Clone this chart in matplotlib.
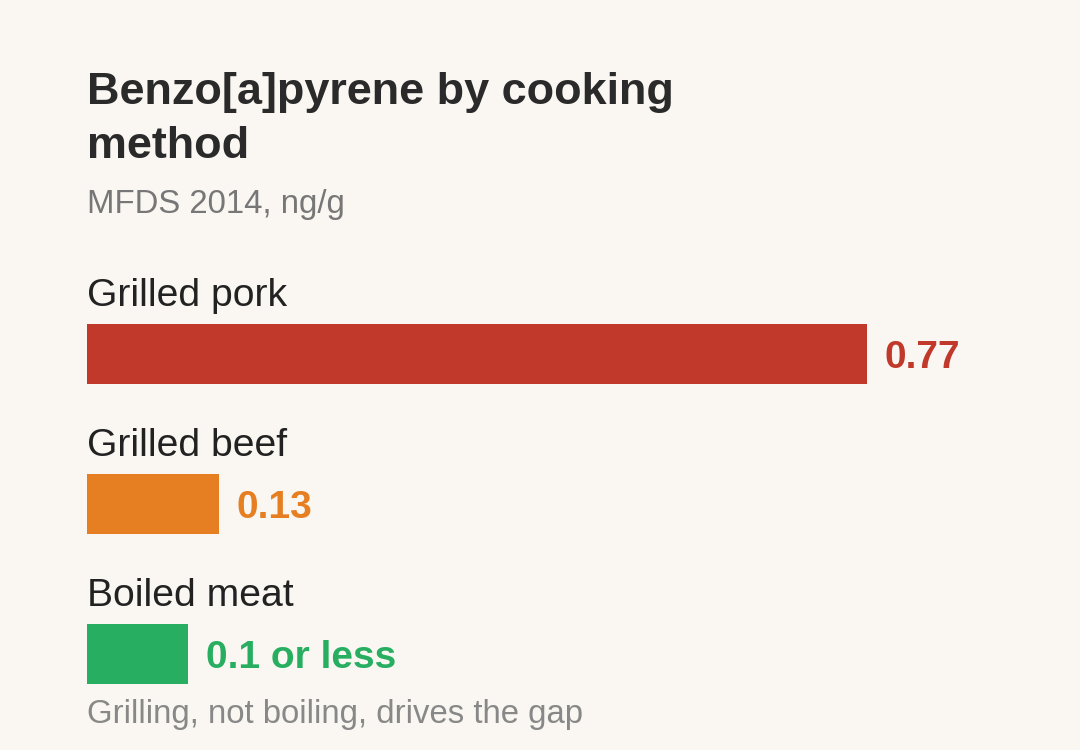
import matplotlib
matplotlib.use("Agg")
import matplotlib.pyplot as plt

# ---- data ----
categories = ["Grilled pork", "Grilled beef", "Boiled meat"]
values = [0.77, 0.13, 0.10]
value_labels = ["0.77", "0.13", "0.1 or less"]
bar_colors = ["#C0392B", "#E67E22", "#27AE60"]
title = "Benzo[a]pyrene by cooking\nmethod"
subtitle = "MFDS 2014, ng/g"
footnote = "Grilling, not boiling, drives the gap"

BG = "#FAF7F2"
W, H = 1080, 750
plt.rcParams['font.family'] = ['Liberation Sans', 'DejaVu Sans']

fig = plt.figure(figsize=(W / 100, H / 100), dpi=100, facecolor=BG)

def fy(px):
    return 1 - px / H

left_px = 87
px_per_unit = 780 / 0.77
ax_top, ax_bot = 324 - 90, 684 + 90   # axes in px
ax_w_px = 1080 - left_px - 20
ax = fig.add_axes([left_px / W, fy(ax_bot), ax_w_px / W, (ax_bot - ax_top) / H])
ax.set_facecolor(BG)
ax.set_xlim(0, ax_w_px / px_per_unit)
pitch = 150.0  # px between bars
ax.set_ylim(2 + 0.2 + 90 / pitch, -0.2 - 90 / pitch)
ax.axis("off")

ypos = list(range(len(categories)))
ax.barh(ypos, values, height=60 / pitch, color=bar_colors, left=0)

for i, (cat, val, lab, col) in enumerate(zip(categories, values, value_labels, bar_colors)):
    ax.text(0, i - 0.2 - 18.3 / pitch, cat, fontsize=28.2, color="#222222",
            va="baseline", ha="left")
    ax.text(val + 18 / px_per_unit, i + 13.8 / pitch, lab, fontsize=28,
            fontweight="bold", color=col, va="baseline", ha="left")

fig.text(left_px / W, fy(157.5), title, fontsize=32.4, fontweight="bold",
         color="#2A2A2A", va="baseline", ha="left", linespacing=1.38)
fig.text(left_px / W, fy(213.3), subtitle, fontsize=23.7, color="#777777",
         va="baseline", ha="left")
fig.text(left_px / W, fy(722.7), footnote, fontsize=23.7, color="#888888",
         va="baseline", ha="left")

fig.savefig("out.png", dpi=100, facecolor=BG)
